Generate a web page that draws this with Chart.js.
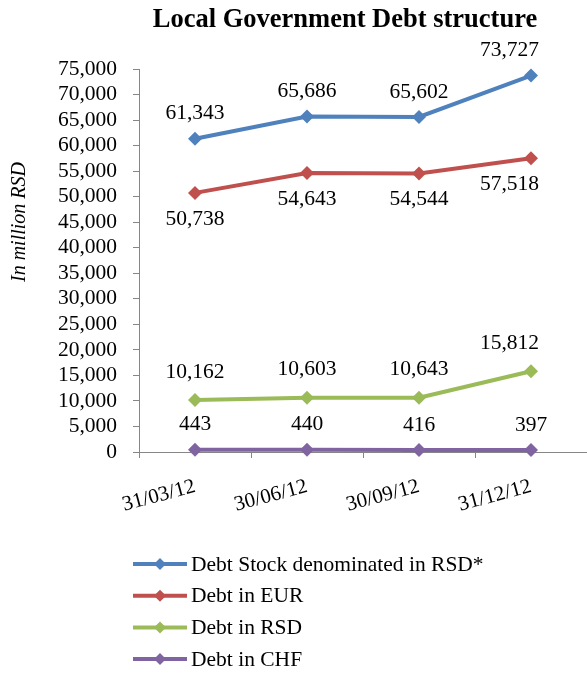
<!DOCTYPE html>
<html>
<head>
<meta charset="utf-8">
<script src="https://cdn.jsdelivr.net/npm/chart.js@4.4.1/dist/chart.umd.min.js"></script>
<style>
  html, body { margin: 0; padding: 0; background: #fff; }
  #wrap { width: 587px; height: 674px; }
</style>
</head>
<body>
<div id="wrap"><canvas id="debtChart" width="587" height="674"></canvas></div>
<script>
// Quarter-end dates
const dates = ['31/03/12', '30/06/12', '30/09/12', '31/12/12'];

// Debt by currency, in million RSD
const debtStockRSD = [61343, 65686, 65602, 73727];
const debtEUR = [50738, 54643, 54544, 57518];
const debtRSD = [10162, 10603, 10643, 15812];
const debtCHF = [443, 440, 416, 397];

const seriesNames = ['Debt Stock denominated in RSD*', 'Debt in EUR', 'Debt in RSD', 'Debt in CHF'];
const seriesColors = ['#4F81BD', '#C0504D', '#9BBB59', '#8064A2'];

const yMax = 75000;
const yStep = 5000;

const chartTitle = 'Local Government Debt structure';
const yTitle = 'In million RSD';

const serif = "'Liberation Serif', 'Times New Roman', serif";
const axisGray = '#868686';

const fmt = v => v.toLocaleString('en-US');

// value labels: negative = above the point, positive = below
const labelShift = [-25, 26, -28, -25];

const valueLabels = {
    id: 'valueLabels',
    afterDatasetsDraw(chart) {
        const ctx = chart.ctx;
        ctx.save();
        ctx.font = '21.5px ' + serif;
        ctx.fillStyle = '#000';
        ctx.textAlign = 'center';
        ctx.textBaseline = 'middle';
        chart.data.datasets.forEach((ds, i) => {
            const meta = chart.getDatasetMeta(i);
            meta.data.forEach((pt, j) => {
                const txt = fmt(ds.data[j]);
                const w = ctx.measureText(txt).width;
                let x = pt.x;
                // keep wide labels from running off the right edge
                if (x + w / 2 > 555) x = 539 - w / 2;
                ctx.fillText(txt, x, pt.y + labelShift[i]);
            });
        });
        ctx.restore();
    }
};

// chart title and rotated y-axis title
const titles = {
    id: 'titles',
    afterDraw(chart) {
        const ctx = chart.ctx;
        ctx.save();
        ctx.fillStyle = '#000';
        ctx.textAlign = 'center';
        ctx.textBaseline = 'alphabetic';
        ctx.font = 'bold 26.5px ' + serif;
        ctx.fillText(chartTitle, 345, 27);
        ctx.translate(20, 222);
        ctx.rotate(-Math.PI / 2);
        ctx.textBaseline = 'middle';
        ctx.font = 'italic 20px ' + serif;
        ctx.fillText(yTitle, 0, 0);
        ctx.restore();
    }
};

// legend as a vertical list with a line and a diamond marker
const lineLegend = {
    id: 'lineLegend',
    afterDraw(chart) {
        const ctx = chart.ctx;
        ctx.save();
        ctx.font = '21.5px ' + serif;
        ctx.textBaseline = 'middle';
        ctx.textAlign = 'left';
        chart.data.datasets.forEach((ds, i) => {
            const y = 564 + i * 31.7;
            ctx.strokeStyle = ds.borderColor;
            ctx.lineWidth = 4;
            ctx.beginPath();
            ctx.moveTo(133, y);
            ctx.lineTo(187, y);
            ctx.stroke();
            ctx.fillStyle = ds.borderColor;
            ctx.beginPath();
            ctx.moveTo(160, y - 6);
            ctx.lineTo(166, y);
            ctx.lineTo(160, y + 6);
            ctx.lineTo(154, y);
            ctx.closePath();
            ctx.fill();
            ctx.fillStyle = '#000';
            ctx.fillText(ds.label, 191, y + 1);
        });
        ctx.restore();
    }
};

const allSeries = [debtStockRSD, debtEUR, debtRSD, debtCHF];

new Chart(document.getElementById('debtChart'), {
    type: 'line',
    data: {
        labels: dates,
        datasets: allSeries.map((vals, i) => ({
            label: seriesNames[i],
            data: vals,
            borderColor: seriesColors[i],
            backgroundColor: seriesColors[i],
            borderWidth: 4,
            pointStyle: 'rectRot',
            pointRadius: 7,
            pointHoverRadius: 7,
            pointBorderWidth: 0,
            tension: 0,
            clip: false
        }))
    },
    options: {
        responsive: false,
        animation: false,
        layout: {
            autoPadding: false,
            padding: { left: 0, right: -3, top: 69, bottom: 125 }
        },
        plugins: {
            legend: { display: false },
            tooltip: { enabled: false },
            title: { display: false }
        },
        scales: {
            x: {
                offset: true,
                grid: { display: true, offset: true, drawOnChartArea: false, tickLength: 6, color: axisGray },
                border: { color: axisGray },
                ticks: {
                    color: '#000',
                    font: { family: serif, size: 21 },
                    minRotation: 15,
                    maxRotation: 15,
                    padding: 16
                },
                afterFit: s => { s.height = 97; s.paddingRight = 0; }
            },
            y: {
                min: 0,
                max: yMax,
                grid: { drawOnChartArea: false, tickLength: 6, color: axisGray },
                border: { color: axisGray },
                ticks: {
                    stepSize: yStep,
                    autoSkip: false,
                    color: '#000',
                    padding: 16,
                    font: { family: serif, size: 21.5 },
                    callback: v => fmt(v)
                },
                afterFit: s => { s.width = 139; }
            }
        }
    },
    plugins: [valueLabels, titles, lineLegend]
});
</script>
</body>
</html>
